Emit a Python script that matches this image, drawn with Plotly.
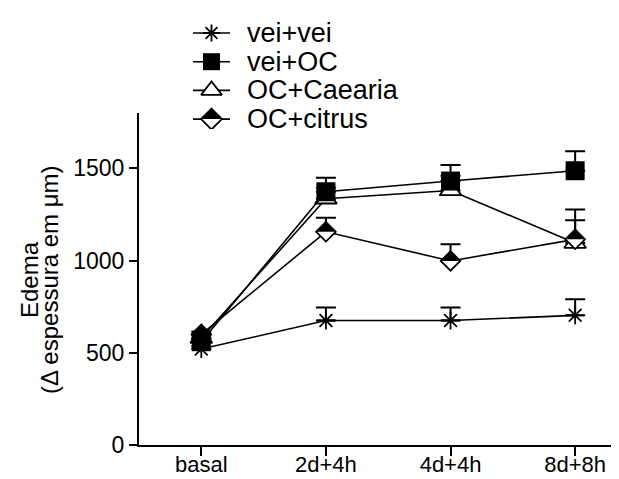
import plotly.graph_objects as go

# ---------------- data ----------------
categories = ["basal", "2d+4h", "4d+4h", "8d+8h"]
series_names = ["vei+vei", "vei+OC", "OC+Caearia", "OC+citrus"]

vei_vei = [520, 675, 675, 703]
vei_vei_sem = [15, 70, 70, 87]
vei_oc = [560, 1373, 1431, 1487]
vei_oc_sem = [15, 76, 87, 105]
oc_caearia = [580, 1335, 1380, 1095]
oc_caearia_sem = [15, 60, 80, 124]
oc_citrus = [600, 1156, 998, 1115]
oc_citrus_sem = [15, 76, 91, 162]

y_ticks = [0, 500, 1000, 1500]
y_title_1 = "Edema"
y_title_2 = "(\u0394 espessura em \u03bcm)"

# ---------------- layout geometry ----------------
W, H = 619, 479
ML, MR, MT, MB = 131, 2, 10, 42
PW = W - ML - MR
PH = H - MT - MB
BOTTOM = H - MB


def py2paper(py):
    return (BOTTOM - py) / PH


def px2paper(px):
    return (px - ML) / PW


FONT = "Liberation Sans, Arial, Helvetica, sans-serif"
LW = 1.6

styles = {
    "vei+vei": dict(symbol="asterisk-open", size=15, color="black", line=dict(color="black", width=1.8)),
    "vei+OC": dict(symbol="square", size=19, color="black", line=dict(color="black", width=0)),
    "OC+Caearia": dict(symbol="triangle-up", size=19, color="white", line=dict(color="black", width=1.8)),
    "OC+citrus": dict(symbol="diamond", size=15, color="white", line=dict(color="black", width=1.8)),
}
legend_sizes = {"vei+vei": 14, "vei+OC": 17, "OC+Caearia": 18, "OC+citrus": 16}

values = {
    "vei+vei": (vei_vei, vei_vei_sem),
    "vei+OC": (vei_oc, vei_oc_sem),
    "OC+Caearia": (oc_caearia, oc_caearia_sem),
    "OC+citrus": (oc_citrus, oc_citrus_sem),
}
draw_order = ["vei+vei", "OC+Caearia", "OC+citrus", "vei+OC"]

fig = go.Figure()

# error bars (upper only), drawn first so markers cover their base
for name in draw_order:
    vals, sem = values[name]
    fig.add_trace(go.Scatter(
        x=categories, y=vals, mode="markers",
        marker=dict(size=1, opacity=0),
        error_y=dict(type="data", array=sem, arrayminus=[0] * len(sem), symmetric=False,
                     color="black", thickness=2, width=10),
        showlegend=False, hoverinfo="skip", xaxis="x", yaxis="y",
    ))


def half_fill(size):
    # filled upper half of the diamond: inverted triangle rotated 180 deg, pushed up
    s = size * 0.97
    return dict(symbol="triangle-down", angle=180, standoff=s / 4, size=s,
                color="black", line=dict(width=0))


for name in draw_order:
    vals, sem = values[name]
    fig.add_trace(go.Scatter(
        x=categories, y=vals, mode="lines+markers", name=name,
        line=dict(color="black", width=LW),
        marker=styles[name], showlegend=False, xaxis="x", yaxis="y",
    ))
    if name == "OC+citrus":
        fig.add_trace(go.Scatter(
            x=categories, y=vals, mode="markers",
            marker=half_fill(styles[name]["size"]),
            showlegend=False, hoverinfo="skip", xaxis="x", yaxis="y",
        ))

# ---------------- manual legend ----------------
LEG_X0, LEG_X1 = 185, 222
LEG_ROW0, LEG_ROW_STEP = 25, 28.7
LEG_TEXT_X = 237
pad = 10
n = len(series_names)
leg_top = LEG_ROW0 - pad
leg_bot = LEG_ROW0 + LEG_ROW_STEP * (n - 1) + pad
ext = pad / LEG_ROW_STEP

annotations = []
for i, name in enumerate(series_names):
    fig.add_trace(go.Scatter(
        x=[0, 1], y=[i, i], mode="lines", line=dict(color="black", width=LW),
        showlegend=False, hoverinfo="skip", xaxis="x2", yaxis="y2",
    ))
    mk = dict(styles[name])
    mk["size"] = legend_sizes[name]
    fig.add_trace(go.Scatter(
        x=[0.5], y=[i], mode="markers", marker=mk,
        showlegend=False, hoverinfo="skip", xaxis="x2", yaxis="y2",
    ))
    if name == "OC+citrus":
        fig.add_trace(go.Scatter(
            x=[0.5], y=[i], mode="markers", marker=half_fill(legend_sizes[name]),
            showlegend=False, hoverinfo="skip", xaxis="x2", yaxis="y2",
        ))
    annotations.append(dict(
        text=name, xref="paper", yref="y2", x=px2paper(LEG_TEXT_X), y=i,
        xanchor="left", yanchor="middle", showarrow=False,
        font=dict(family=FONT, size=27, color="black"),
    ))

# y-axis title (two lines)
TITLE_CY = 272
for txt, cx in ((y_title_1, 21), (y_title_2, 41)):
    annotations.append(dict(
        text=txt, xref="paper", yref="paper", x=0, xshift=cx - ML,
        y=py2paper(TITLE_CY), textangle=-90, xanchor="center", yanchor="middle",
        showarrow=False, font=dict(family=FONT, size=24, color="black"),
    ))

PLOT_TOP = 105
fig.update_layout(
    width=W, height=H,
    margin=dict(l=ML, r=MR, t=MT, b=MB, pad=0),
    paper_bgcolor="white", plot_bgcolor="white",
    font=dict(family=FONT, size=22, color="black"),
    showlegend=False,
    annotations=annotations,
    xaxis=dict(
        type="category", categoryorder="array", categoryarray=categories,
        range=[-0.5, 3.4], domain=[0, 1], anchor="y",
        showline=True, linecolor="black", linewidth=2,
        ticks="outside", ticklen=9, tickwidth=2, tickcolor="black",
        ticklabelstandoff=-10,
        showgrid=False, zeroline=False, tickfont=dict(size=22),
    ),
    yaxis=dict(
        range=[0, 1800], domain=[0, py2paper(PLOT_TOP)], anchor="x",
        tickvals=y_ticks, ticktext=[str(v) for v in y_ticks],
        showline=True, linecolor="black", linewidth=2,
        ticks="outside", ticklen=8, tickwidth=2, tickcolor="black",
        showgrid=False, zeroline=False, tickfont=dict(size=23),
    ),
    xaxis2=dict(domain=[px2paper(LEG_X0), px2paper(LEG_X1)], range=[0, 1], anchor="y2",
                visible=False, fixedrange=True),
    yaxis2=dict(domain=[py2paper(leg_bot), py2paper(leg_top)],
                range=[n - 1 + ext, -ext], anchor="x2", visible=False, fixedrange=True),
)

fig.write_html("out.html")
